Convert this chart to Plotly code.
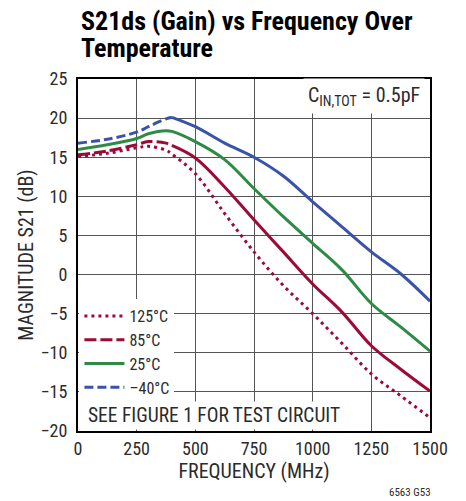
import plotly.graph_objects as go

# ---- data ----
freq_mhz = [0, 125, 250, 300, 375, 400, 500, 625, 750, 875, 1000, 1125, 1250, 1375, 1500]
s21_m40 = [16.8, 17.3, 18.2, 18.9, 19.9, 20.1, 18.9, 16.8, 15.0, 12.6, 9.3, 6.1, 2.9, 0.1, -3.4]
s21_25 = [16.0, 16.6, 17.4, 18.0, 18.4, 18.3, 17.0, 14.7, 11.0, 7.4, 4.0, 0.6, -3.7, -6.7, -9.8]
s21_85 = [15.3, 15.8, 16.6, 17.0, 16.8, 16.5, 14.9, 11.2, 7.0, 2.9, -1.2, -4.8, -9.1, -12.1, -14.9]
s21_125 = [15.1, 15.5, 16.2, 16.4, 15.9, 15.4, 12.9, 7.8, 2.9, -1.4, -5.0, -8.8, -12.7, -15.5, -18.3]
series_names = ["125°C", "85°C", "25°C", "–40°C"]
x_ticks = [0, 250, 500, 750, 1000, 1250, 1500]
y_ticks = [-20, -15, -10, -5, 0, 5, 10, 15, 20, 25]

RED = "#9c0a35"
GREEN = "#2f8a45"
BLUE = "#3953a8"
FONT = "Liberation Sans Narrow, Roboto Condensed, DejaVu Sans Condensed, Arial Narrow, sans-serif"
TXT = "#2b2b2b"

fig = go.Figure()
split = 5  # peak region: dashes visible before, trace looks solid after

fig.add_trace(go.Scatter(x=freq_mhz, y=s21_125, mode="lines", name=series_names[0],
                         line=dict(color=RED, width=3, dash="3px,4px", shape="spline")))
fig.add_trace(go.Scatter(x=freq_mhz[:split + 1], y=s21_85[:split + 1], mode="lines", name=series_names[1],
                         line=dict(color=RED, width=3, dash="12px,4px", shape="spline")))
fig.add_trace(go.Scatter(x=freq_mhz[split:], y=s21_85[split:], mode="lines", showlegend=False,
                         line=dict(color=RED, width=3, shape="spline")))
fig.add_trace(go.Scatter(x=freq_mhz, y=s21_25, mode="lines", name=series_names[2],
                         line=dict(color=GREEN, width=3, shape="spline")))
fig.add_trace(go.Scatter(x=freq_mhz[:split + 1], y=s21_m40[:split + 1], mode="lines", name=series_names[3],
                         line=dict(color=BLUE, width=3, dash="9px,4px", shape="spline")))
fig.add_trace(go.Scatter(x=freq_mhz[split:], y=s21_m40[split:], mode="lines", showlegend=False,
                         line=dict(color=BLUE, width=3, shape="spline")))

fig.update_layout(
    width=458, height=493,
    margin=dict(l=70, r=36, t=71, b=70),
    paper_bgcolor="white", plot_bgcolor="white",
    font=dict(family=FONT, size=16, color=TXT),
    showlegend=True,
    legend=dict(x=0.004, xanchor="left", y=0.375, yanchor="top",
                bgcolor="white", borderwidth=0, tracegroupgap=0,
                font=dict(family=FONT, size=16, color=TXT), itemwidth=40),
)
fig.update_xaxes(range=[0, 1500], tickvals=x_ticks, ticktext=[str(v) for v in x_ticks],
                 showgrid=True, gridcolor="#555555", gridwidth=1,
                 showline=True, linecolor="black", linewidth=2, mirror=True,
                 ticks="", zeroline=False, automargin=False,
                 tickfont=dict(family=FONT, size=18, color=TXT),
                 title=dict(text="FREQUENCY (MHz)", font=dict(family=FONT, size=20, color=TXT), standoff=4))
fig.update_yaxes(range=[-20, 25], tickvals=y_ticks,
                 showgrid=True, gridcolor="#555555", gridwidth=1,
                 showline=True, linecolor="black", linewidth=2, mirror=True,
                 ticks="", zeroline=False, automargin=False, ticklabelstandoff=5,
                 tickfont=dict(family=FONT, size=18, color=TXT),
                 title=dict(text="MAGNITUDE S21 (dB)", font=dict(family=FONT, size=20, color=TXT), standoff=2))

fig.add_annotation(xref="paper", yref="paper", x=0.003, y=1.166, xanchor="left", yanchor="middle",
                   text="<b>S21ds (Gain) vs Frequency Over</b>", showarrow=False, align="left",
                   font=dict(family=FONT, size=26, color="black"))
fig.add_annotation(xref="paper", yref="paper", x=0.003, y=1.088, xanchor="left", yanchor="middle",
                   text="<b>Temperature</b>", showarrow=False, align="left",
                   font=dict(family=FONT, size=26, color="black"))
fig.add_annotation(xref="paper", yref="paper", x=0.985, y=0.952, xanchor="right", yanchor="middle",
                   text="C<sub>IN,TOT</sub> = 0.5pF", showarrow=False, bgcolor="white", borderpad=4,
                   font=dict(family=FONT, size=20, color=TXT))
fig.add_annotation(xref="paper", yref="paper", x=0.02, y=0.045, xanchor="left", yanchor="middle",
                   text="SEE FIGURE 1 FOR TEST CIRCUIT", showarrow=False, bgcolor="white", borderpad=2,
                   font=dict(family=FONT, size=19.5, color=TXT))
fig.add_annotation(xref="paper", yref="paper", x=0.943, y=-0.174, xanchor="center", yanchor="middle",
                   text="6563 G53", showarrow=False,
                   font=dict(family=FONT, size=11, color=TXT))

fig.write_html("out.html")
